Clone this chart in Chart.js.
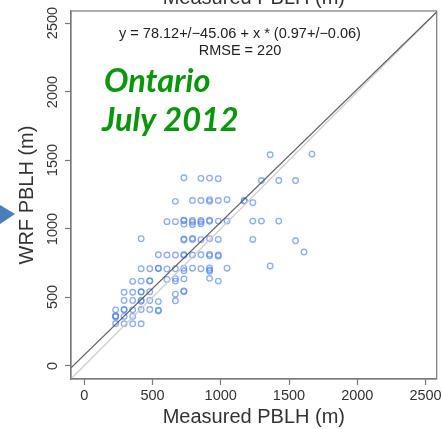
<!DOCTYPE html>
<html>
<head>
<meta charset="utf-8">
<title>WRF vs measured PBLH - Ontario July 2012</title>
<script src="https://cdn.jsdelivr.net/npm/chart.js@4.4.1/dist/chart.umd.min.js"></script>
<style>
    html, body { margin: 0; padding: 0; background: #fff; }
    #wrap { position: relative; width: 442px; height: 429px; overflow: hidden; }
    canvas { display: block; }
    .turned {
        position: absolute;
        white-space: nowrap;
        line-height: 1;
        color: #333;
        font-family: "Liberation Sans", Arial, Helvetica, sans-serif;
        transform: translate(-50%, -50%) rotate(-90deg);
    }
</style>
</head>
<body>
<div id="wrap">
    <canvas id="pblhChart" width="442" height="429"></canvas>
</div>
<script>
// Measured PBLH (m), row by row
var measured = [
    1362, 1668,
    730, 855, 918, 982, 1298, 1425, 1548,
    668, 793, 855, 918, 918, 982, 1046, 1172, 1172, 1235,
    606, 668, 730, 730, 793, 793, 855, 855, 918, 918, 982, 1046, 1235, 1298, 1425,
    730, 793, 855,
    417, 730, 730, 793, 793, 855, 918, 982, 1235, 1548,
    1610, 1362,
    543, 606, 668, 730, 730, 793, 855, 918, 918, 982, 982,
    417, 480, 543, 543, 606, 668, 730, 793, 855, 918, 918, 1046, 730, 918,
    355, 417, 480, 480, 606, 668, 668, 730, 918, 982,
    292, 355, 417, 417, 480, 668, 730, 730,
    292, 355, 417, 480, 543, 668, 417,
    230, 292, 292, 355, 417, 480, 543, 543,
    230, 230, 230, 292, 355,
    230, 292, 355, 417
];
// WRF PBLH (m), same order
var wrf = [
    1540, 1545,
    1372, 1368, 1370, 1365, 1352, 1352, 1352,
    1200, 1206, 1206, 1212, 1200, 1206, 1212, 1206, 1202, 1190,
    1052, 1052, 1058, 1062, 1060, 1048, 1060, 1050, 1062, 1055, 1056, 1056, 1056, 1056, 1056,
    1034, 1030, 1036,
    927, 925, 918, 930, 922, 920, 927, 922, 922, 912,
    830, 728,
    810, 808, 808, 812, 806, 808, 810, 813, 803, 808, 800,
    708, 708, 710, 712, 706, 708, 712, 712, 708, 714, 700, 712, 693, 690,
    616, 618, 618, 620, 630, 636, 618, 634, 638, 618,
    536, 536, 538, 540, 540, 522, 540, 546,
    476, 476, 478, 476, 468, 474, 470,
    408, 408, 410, 408, 410, 410, 406, 400,
    365, 356, 362, 360, 360,
    308, 306, 306, 306
];

// fit from the figure
var fitIntercept = 78.12;
var fitSlope = 0.97;

var xTicks = [0, 500, 1000, 1500, 2000, 2500];
var yTicks = [0, 500, 1000, 1500, 2000, 2500];
var xRange = [-97, 2582];
var yRange = [-97, 2590];

var points = measured.map(function (m, i) { return { x: m, y: wrf[i] }; });
var fitLine = xRange.map(function (v) { return { x: v, y: fitIntercept + fitSlope * v }; });
var oneToOne = [{ x: xRange[0], y: xRange[0] }, { x: yRange[1], y: yRange[1] }];

var sans = '"Liberation Sans", Arial, Helvetica, sans-serif';
var labelFont = { family: sans, size: 14.5 };
var titleFont = { family: sans, size: 20 };
var axisGrey = '#7a7a7a';
var textColor = '#333';

// box, cut-off top label, notes and the blue arrow
var decorPlugin = {
    id: 'decor',
    afterDraw: function (chart) {
        var ctx = chart.ctx;
        var a = chart.chartArea;
        ctx.save();

        ctx.strokeStyle = axisGrey;
        ctx.lineWidth = 1.2;
        ctx.strokeRect(a.left, a.top, a.right - a.left, a.bottom - a.top);

        ctx.fillStyle = textColor;
        ctx.textAlign = 'center';
        ctx.textBaseline = 'alphabetic';
        ctx.font = '20px ' + sans;
        ctx.fillText('Measured PBLH (m)', (a.left + a.right) / 2, 4);

        ctx.font = '14.5px ' + sans;
        ctx.fillStyle = '#222';
        ctx.fillText('y = 78.12+/\u221245.06 + x * (0.97+/\u22120.06)', 240, 38);
        ctx.fillText('RMSE = 220', 240, 55);

        ctx.fillStyle = '#0a960a';
        ctx.textAlign = 'left';
        ctx.font = 'italic bold 32.5px Lato, "Open Sans", sans-serif';
        ctx.fillText('Ontario', 104, 92);
        ctx.fillText('July 2012', 102, 131);

        ctx.fillStyle = '#4a7ebb';
        ctx.beginPath();
        ctx.moveTo(0, 205);
        ctx.lineTo(15, 214);
        ctx.lineTo(0, 224);
        ctx.closePath();
        ctx.fill();

        ctx.restore();
    }
};

var chart = new Chart(document.getElementById('pblhChart'), {
    type: 'scatter',
    data: {
        datasets: [{
            label: 'fit',
            data: fitLine,
            showLine: true,
            borderColor: 'rgba(80, 80, 80, 0.9)',
            borderWidth: 1.3,
            pointRadius: 0
        }, {
            label: '1:1',
            data: oneToOne,
            showLine: true,
            borderColor: '#cfcfcf',
            borderWidth: 1.3,
            pointRadius: 0
        }, {
            label: 'PBLH',
            data: points,
            pointStyle: 'circle',
            pointRadius: 2.8,
            borderWidth: 1.3,
            borderColor: 'rgba(80, 130, 235, 0.65)',
            backgroundColor: 'rgba(0, 0, 0, 0)'
        }]
    },
    options: {
        responsive: false,
        animation: false,
        events: [],
        layout: { padding: { top: 11, right: 4, left: 0, bottom: 0 } },
        plugins: {
            legend: { display: false },
            tooltip: { enabled: false }
        },
        scales: {
            x: {
                type: 'linear',
                min: xRange[0],
                max: xRange[1],
                afterBuildTicks: function (s) { s.ticks = xTicks.map(function (v) { return { value: v }; }); },
                afterFit: function (s) {
                    s.height = 50;
                    // let the last label run off the edge like the original
                    s.paddingLeft = 0;
                    s.paddingRight = 0;
                },
                grid: { drawOnChartArea: false, drawTicks: true, tickLength: 6, tickColor: axisGrey, tickWidth: 1.2 },
                border: { display: true, color: axisGrey, width: 1.2 },
                ticks: {
                    font: labelFont, color: textColor, padding: 2, maxRotation: 0,
                    callback: function (v) { return String(v); }
                },
                title: { display: true, text: 'Measured PBLH (m)', font: titleFont, color: textColor, padding: { top: 0, bottom: 0 } }
            },
            y: {
                type: 'linear',
                min: yRange[0],
                max: yRange[1],
                afterBuildTicks: function (s) { s.ticks = yTicks.map(function (v) { return { value: v }; }); },
                afterFit: function (s) { s.width = 71; },
                grid: { drawOnChartArea: false, drawTicks: true, tickLength: 6, tickColor: axisGrey, tickWidth: 1.2 },
                border: { display: true, color: axisGrey, width: 1.2 },
                ticks: { display: false },
                title: { display: false }
            }
        }
    },
    plugins: [decorPlugin]
});

// R draws the y labels turned; put them in as text on top of the canvas
function addTurned(text, x, y, size) {
    var el = document.createElement('div');
    el.className = 'turned';
    el.textContent = text;
    el.style.left = x + 'px';
    el.style.top = y + 'px';
    el.style.fontSize = size + 'px';
    document.getElementById('wrap').appendChild(el);
}

var area = chart.chartArea;
yTicks.forEach(function (v) {
    addTurned(String(v), area.left - 19, chart.scales.y.getPixelForValue(v), 14.5);
});
addTurned('WRF PBLH (m)', 26, (area.top + area.bottom) / 2, 20);
</script>
</body>
</html>
